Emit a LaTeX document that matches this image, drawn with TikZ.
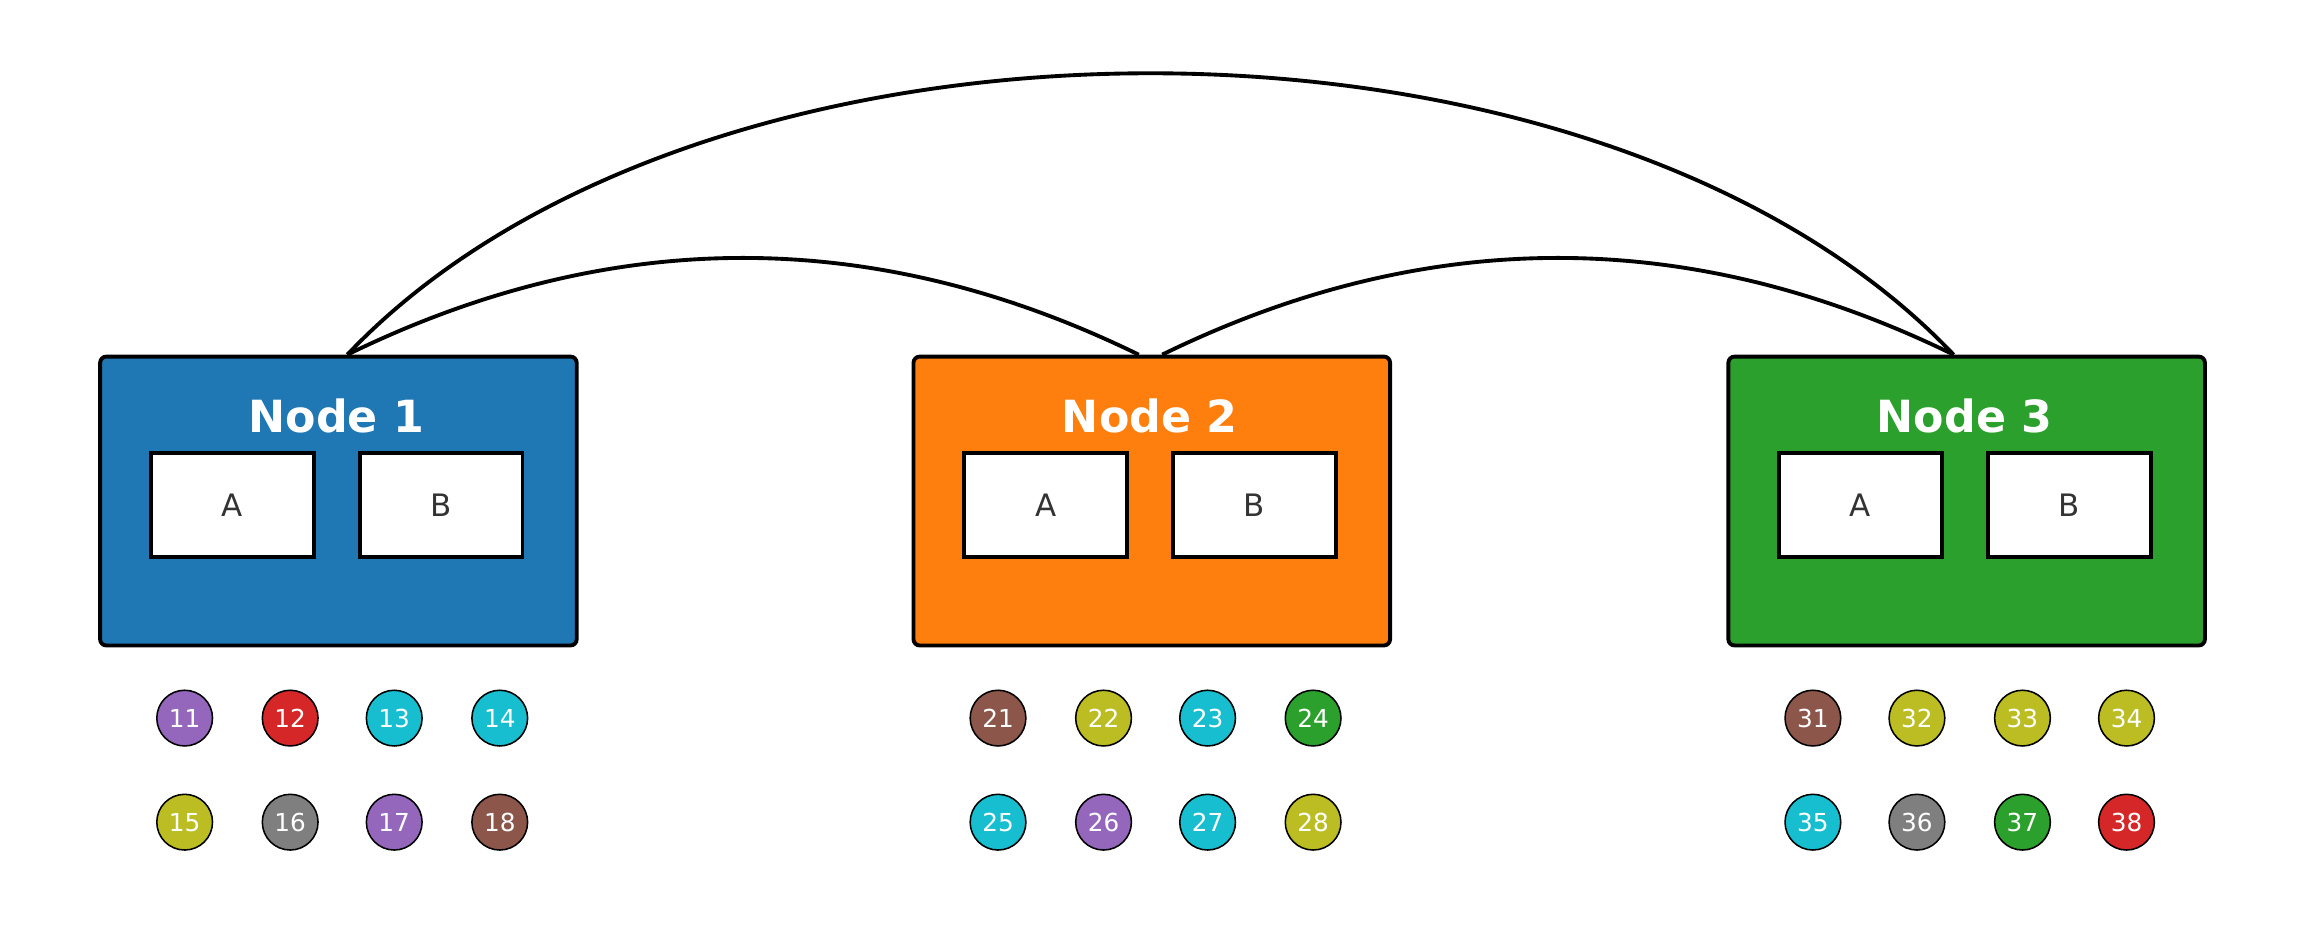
\documentclass[tikz,border=0pt]{standalone}
\usepackage{fontspec}
\setmainfont{DejaVu Sans}
\definecolor{tblue}{HTML}{1F77B4}
\definecolor{torange}{HTML}{FF7F0E}
\definecolor{tgreen}{HTML}{2CA02C}
\definecolor{tred}{HTML}{D62728}
\definecolor{tpurple}{HTML}{9467BD}
\definecolor{tbrown}{HTML}{8C564B}
\definecolor{tgray}{HTML}{7F7F7F}
\definecolor{tolive}{HTML}{BCBD22}
\definecolor{tcyan}{HTML}{17BECF}
\begin{document}
\begin{tikzpicture}[x=0.01cm,y=-0.01cm,
  big/.style={draw=black,line width=0.75pt,rounded corners=1.2pt,minimum width=3.25cm,minimum height=1.97cm,inner sep=0pt},
  title/.style={text=white,font=\fontsize{8.6}{10}\selectfont\bfseries},
  sub/.style={draw=black,fill=white,line width=0.75pt,minimum width=1.11cm,minimum height=0.71cm,inner sep=0pt,text=black!80,font=\fontsize{6}{7}\selectfont},
  dot/.style={circle,draw=black,line width=0.3pt,minimum size=0.38cm,inner sep=0pt,text=white,font=\fontsize{4.8}{5}\selectfont},
  arc/.style={line width=0.75pt}]
\useasboundingbox (0,0) rectangle (1568,643);
\foreach \i/\x/\c in {1/67/tblue,2/622/torange,3/1178/tgreen}{
  \node[big,fill=\c,anchor=north west] (n\i) at (\x,242) {};
  \node[title] (t\i) at (\x+162.5,284) {Node \i};
  \node[sub] (a\i) at (\x+91.5,344.5) {A};
  \node[sub] (b\i) at (\x+234,344.5) {B};
}
\foreach \n/\x/\y/\c in {11/126/490/tpurple,12/198/490/tred,13/269/490/tcyan,14/341/490/tcyan,
 15/126/561/tolive,16/198/561/tgray,17/269/561/tpurple,18/341/561/tbrown,
 21/681/490/tbrown,22/753/490/tolive,23/824/490/tcyan,24/896/490/tgreen,
 25/681/561/tcyan,26/753/561/tpurple,27/824/561/tcyan,28/896/561/tolive,
 31/1237/490/tbrown,32/1308/490/tolive,33/1380/490/tolive,34/1451/490/tolive,
 35/1237/561/tcyan,36/1308/561/tgray,37/1380/561/tgreen,38/1451/561/tred}{
  \node[dot,fill=\c] (c\n) at (\x,\y) {\n};
}
\coordinate (p1) at (237,242);
\coordinate (p2l) at (777,242);
\coordinate (p2r) at (793,242);
\coordinate (p3) at (1333,242);
\draw[arc] (p1) .. controls (480,-14) and (1090,-14) .. (p3);
\draw[arc] (p1) .. controls (417,154) and (597,154) .. (p2l);
\draw[arc] (p2r) .. controls (973,154) and (1153,154) .. (p3);
\end{tikzpicture}
\end{document}
